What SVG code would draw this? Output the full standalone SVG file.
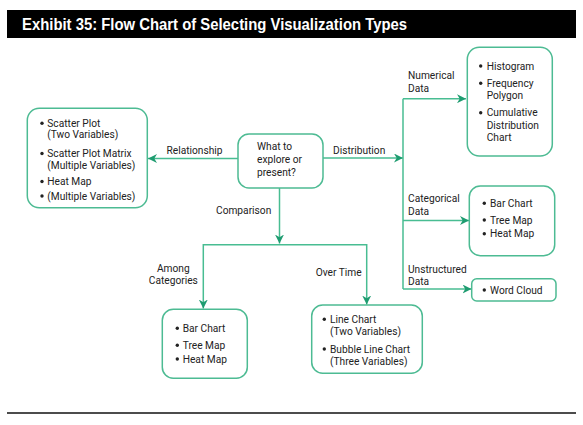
<svg xmlns="http://www.w3.org/2000/svg" width="583" height="425" viewBox="0 0 583 425">
<style>
.box{fill:#fff;stroke:#4dbb93;stroke-width:1.5}
.ln{fill:none;stroke:#48bd92;stroke-width:1.5}
.t{font-family:Roboto,"Liberation Sans",sans-serif;font-size:10.2px;fill:#222}
.b{fill:#222}
.title{font-family:"Liberation Sans",Arial,sans-serif;font-weight:bold;font-size:16px;fill:#fff}
</style>
<defs>
<marker id="ah" viewBox="0 0 10 10" refX="10" refY="5" markerWidth="9" markerHeight="9" markerUnits="userSpaceOnUse" orient="auto">
<path d="M0,0 L10,5 L0,10 L3,5 z" fill="#1e9c70"/>
</marker>
</defs>
<rect x="0" y="0" width="583" height="425" fill="#fff"/>
<g id="title">
<rect x="7" y="10" width="569" height="28" fill="#000"/>
<text class="title" x="22" y="30" textLength="385" lengthAdjust="spacingAndGlyphs">Exhibit 35: Flow Chart of Selecting Visualization Types</text>
</g>
<line x1="7" y1="413" x2="576" y2="413" stroke="#111" stroke-width="1.6"/>

<g id="connectors">
<path class="ln" d="M238,158.5 L148,158.5" marker-end="url(#ah)"/>
<path class="ln" d="M323,158 L403,158" marker-end="url(#ah)"/>
<path class="ln" d="M403,98.7 L403,289"/>
<path class="ln" d="M403,98.7 L466,98.7" marker-end="url(#ah)"/>
<path class="ln" d="M403,220.5 L469,220.5" marker-end="url(#ah)"/>
<path class="ln" d="M403,289 L471.5,289" marker-end="url(#ah)"/>
<path class="ln" d="M279.5,188 L279.5,243.5" marker-end="url(#ah)"/>
<path class="ln" d="M203.3,244.7 L366.7,244.7"/>
<path class="ln" d="M203.3,244 L203.3,308.5" marker-end="url(#ah)"/>
<path class="ln" d="M366.7,244 L366.7,304.5" marker-end="url(#ah)"/>
<text class="t" x="166.5" y="154">Relationship</text>
<text class="t" x="333" y="153.5">Distribution</text>
<text class="t" x="216" y="213.5">Comparison</text>
<text class="t" x="408" y="78.5">Numerical</text>
<text class="t" x="408" y="91.5">Data</text>
<text class="t" x="408" y="202">Categorical</text>
<text class="t" x="408" y="214.5">Data</text>
<text class="t" x="408" y="272.5">Unstructured</text>
<text class="t" x="408" y="285">Data</text>
<text class="t" x="173.3" y="271.7" text-anchor="middle">Among</text>
<text class="t" x="173.3" y="284.3" text-anchor="middle">Categories</text>
<text class="t" x="315.7" y="275.7">Over Time</text>
</g>

<g id="center">
<rect class="box" x="238" y="134" width="85" height="54" rx="11"/>
<text class="t" x="257" y="150">What to</text>
<text class="t" x="257" y="163">explore or</text>
<text class="t" x="257" y="176">present?</text>
</g>

<g id="relationship">
<rect class="box" x="27.3" y="108.3" width="120" height="99.4" rx="12"/>
<circle class="b" cx="42" cy="123.3" r="1.7"/>
<text class="t" x="47.3" y="126.7">Scatter Plot</text>
<text class="t" x="47.3" y="138">(Two Variables)</text>
<circle class="b" cx="42" cy="153.5" r="1.7"/>
<text class="t" x="47.3" y="157">Scatter Plot Matrix</text>
<text class="t" x="47.3" y="169">(Multiple Variables)</text>
<circle class="b" cx="42" cy="181.5" r="1.7"/>
<text class="t" x="47.3" y="185">Heat Map</text>
<circle class="b" cx="42" cy="196" r="1.7"/>
<text class="t" x="47.3" y="199.5">(Multiple Variables)</text>
</g>

<g id="numerical">
<rect class="box" x="467.3" y="47.3" width="85" height="108.7" rx="12"/>
<circle class="b" cx="480.7" cy="66" r="1.7"/>
<text class="t" x="486.7" y="69.5">Histogram</text>
<circle class="b" cx="480.7" cy="83.3" r="1.7"/>
<text class="t" x="486.7" y="86.8">Frequency</text>
<text class="t" x="486.7" y="99.3">Polygon</text>
<circle class="b" cx="480.7" cy="112.7" r="1.7"/>
<text class="t" x="486.7" y="116.2">Cumulative</text>
<text class="t" x="486.7" y="129.3">Distribution</text>
<text class="t" x="486.7" y="141">Chart</text>
</g>

<g id="categorical">
<rect class="box" x="469.3" y="186" width="85.4" height="69.7" rx="11"/>
<circle class="b" cx="484.3" cy="203.3" r="1.7"/>
<text class="t" x="490" y="206.8">Bar Chart</text>
<circle class="b" cx="484.3" cy="220" r="1.7"/>
<text class="t" x="490" y="223.5">Tree Map</text>
<circle class="b" cx="484.3" cy="233.7" r="1.7"/>
<text class="t" x="490" y="237.2">Heat Map</text>
</g>

<g id="unstructured">
<rect class="box" x="471.7" y="278.7" width="84.3" height="22.3" rx="5"/>
<circle class="b" cx="484.3" cy="290" r="1.7"/>
<text class="t" x="490" y="293.5">Word Cloud</text>
</g>

<g id="among">
<rect class="box" x="162.3" y="309.3" width="85" height="69" rx="11"/>
<circle class="b" cx="177.3" cy="328.3" r="1.7"/>
<text class="t" x="182.7" y="331.8">Bar Chart</text>
<circle class="b" cx="177.3" cy="345.3" r="1.7"/>
<text class="t" x="182.7" y="348.8">Tree Map</text>
<circle class="b" cx="177.3" cy="359" r="1.7"/>
<text class="t" x="182.7" y="362.5">Heat Map</text>
</g>

<g id="overtime">
<rect class="box" x="311.7" y="305" width="110.6" height="68.3" rx="11"/>
<circle class="b" cx="324.3" cy="319.3" r="1.7"/>
<text class="t" x="330" y="322.8">Line Chart</text>
<text class="t" x="330" y="335.3">(Two Variables)</text>
<circle class="b" cx="324.3" cy="349" r="1.7"/>
<text class="t" x="330" y="352.5">Bubble Line Chart</text>
<text class="t" x="330" y="364.5">(Three Variables)</text>
</g>
</svg>
